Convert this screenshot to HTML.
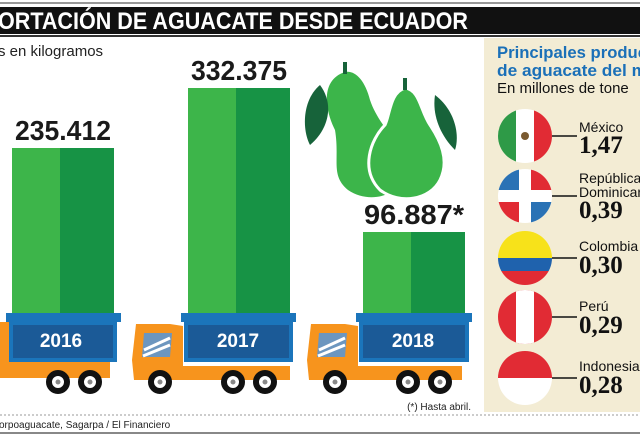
<!DOCTYPE html>
<html><head><meta charset="utf-8"><style>
body{margin:0;width:640px;height:434px;overflow:hidden;background:#fff;font-family:"Liberation Sans",sans-serif}
</style></head><body>
<svg width="640" height="434" viewBox="0 0 640 434" xmlns="http://www.w3.org/2000/svg" font-family="Liberation Sans, sans-serif">
<rect x="0" y="2" width="640" height="2" fill="#999"/>
<rect x="0" y="7" width="640" height="27" fill="#111"/>
<rect x="0" y="35" width="640" height="2" fill="#333"/>
<text x="-2" y="29" fill="#fff" font-size="24" font-weight="bold" textLength="470" lengthAdjust="spacingAndGlyphs">ORTACIÓN DE AGUACATE DESDE ECUADOR</text>
<text x="-2" y="56" font-size="15" fill="#222">s en kilogramos</text>
<rect x="484" y="38" width="156" height="374" fill="#f3ecd4"/>
<text x="497" y="58" font-size="17" font-weight="bold" fill="#1b70b8" textLength="150" lengthAdjust="spacingAndGlyphs">Principales produc</text>
<text x="497" y="76" font-size="17" font-weight="bold" fill="#1b70b8" textLength="150" lengthAdjust="spacingAndGlyphs">de aguacate del m</text>
<text x="497" y="93" font-size="15" fill="#111">En millones de tone</text>
<defs>
<clipPath id="c1"><circle cx="525" cy="136" r="27"/></clipPath>
<clipPath id="c2"><circle cx="525" cy="196" r="27"/></clipPath>
<clipPath id="c3"><circle cx="525" cy="258" r="27"/></clipPath>
<clipPath id="c4"><circle cx="525" cy="317" r="27"/></clipPath>
<clipPath id="c5"><circle cx="525" cy="378" r="27"/></clipPath>
</defs>
<g clip-path="url(#c1)"><rect x="498" y="109" width="18" height="54" fill="#2e9a47"/><rect x="516" y="109" width="18" height="54" fill="#fff"/><rect x="534" y="109" width="18" height="54" fill="#e12b34"/><circle cx="525" cy="136" r="4" fill="#7a5a30"/></g>
<g clip-path="url(#c2)"><rect x="498" y="169" width="54" height="54" fill="#fff"/><rect x="498" y="169" width="21" height="21" fill="#2a72b5"/><rect x="531" y="169" width="21" height="21" fill="#e12b34"/><rect x="498" y="202" width="21" height="21" fill="#e12b34"/><rect x="531" y="202" width="21" height="21" fill="#2a72b5"/></g>
<g clip-path="url(#c3)"><rect x="498" y="231" width="54" height="27" fill="#f7e21a"/><rect x="498" y="258" width="54" height="13" fill="#1f62ad"/><rect x="498" y="271" width="54" height="14" fill="#e12b34"/></g>
<g clip-path="url(#c4)"><rect x="498" y="290" width="54" height="54" fill="#e12b34"/><rect x="516" y="290" width="18" height="54" fill="#fff"/></g>
<g clip-path="url(#c5)"><rect x="498" y="351" width="54" height="27" fill="#e12b34"/><rect x="498" y="378" width="54" height="27" fill="#fff"/></g>
<g stroke="#111" stroke-width="1.5"><line x1="552" y1="136" x2="577" y2="136"/><line x1="552" y1="196" x2="577" y2="196"/><line x1="552" y1="258" x2="577" y2="258"/><line x1="552" y1="317" x2="577" y2="317"/><line x1="552" y1="378" x2="577" y2="378"/></g>
<g font-size="14" fill="#111">
<text x="579" y="132">México</text>
<text x="579" y="183">República</text><text x="579" y="197">Dominicana</text>
<text x="579" y="251">Colombia</text>
<text x="579" y="311">Perú</text>
<text x="579" y="371">Indonesia</text>
</g>
<g font-size="25" font-weight="bold" fill="#111" font-family="Liberation Serif, serif">
<text x="579" y="153">1,47</text>
<text x="579" y="218">0,39</text>
<text x="579" y="273">0,30</text>
<text x="579" y="333">0,29</text>
<text x="579" y="393">0,28</text>
</g>
<g>
<path d="M345 72 C320 80 325 110 335 130 C340 160 330 175 348 190 C370 205 400 195 405 175 C410 150 380 130 370 100 C365 80 355 70 345 72Z" fill="#3cb54a"/>
<path d="M405 88 C390 92 390 115 385 125 C370 140 360 170 380 190 C400 205 430 200 440 180 C450 160 440 140 430 125 C420 110 420 90 405 88Z" fill="#3cb54a" stroke="#fff" stroke-width="3"/>
<path d="M320 85 C302 100 302 130 310 145 C328 130 335 105 320 85Z" fill="#17633a"/>
<path d="M435 95 C455 110 460 135 455 150 C440 135 432 115 435 95Z" fill="#17633a"/>
<rect x="343" y="62" width="4" height="12" fill="#17633a"/><rect x="403" y="78" width="4" height="12" fill="#17633a"/>
</g>
<rect x="12" y="148" width="48" height="166" fill="#3db54a"/><rect x="60" y="148" width="54" height="166" fill="#179345"/>
<rect x="188" y="88" width="48" height="226" fill="#3db54a"/><rect x="236" y="88" width="54" height="226" fill="#179345"/>
<rect x="363" y="232" width="48" height="82" fill="#3db54a"/><rect x="411" y="232" width="54" height="82" fill="#179345"/>
<g font-size="28" font-weight="bold" fill="#1a1a1a" text-anchor="middle">
<text x="63" y="140" textLength="96" lengthAdjust="spacingAndGlyphs">235.412</text>
<text x="239" y="80" textLength="96" lengthAdjust="spacingAndGlyphs">332.375</text>
<text x="414" y="224" textLength="100" lengthAdjust="spacingAndGlyphs">96.887*</text>
</g>
<rect x="0" y="360" width="110" height="18" fill="#f7941d"/>
<rect x="0" y="322" width="10" height="40" fill="#f7941d"/>
<rect x="6" y="313" width="115" height="9" fill="#1b75bb"/>
<rect x="9" y="322" width="108" height="40" fill="#1b75bb"/><rect x="13" y="325" width="100" height="33" fill="#1b5a97"/>
<path d="M136 324 L170 324 L183 326 L183 366 L290 366 L290 380 L134 380 L132 360 Z" fill="#f7941d"/>
<path d="M144 333 L172 333 L170 357 L142 357 Z" fill="#6c96bf"/><path d="M144 350 L170 338 M143 356 L170 345" stroke="#fff" stroke-width="3"/>
<rect x="181" y="313" width="115" height="9" fill="#1b75bb"/>
<rect x="184" y="322" width="109" height="40" fill="#1b75bb"/><rect x="188" y="325" width="101" height="33" fill="#1b5a97"/>
<path d="M311 324 L345 324 L358 326 L358 366 L462 366 L462 380 L309 380 L307 360 Z" fill="#f7941d"/>
<path d="M319 333 L347 333 L345 357 L317 357 Z" fill="#6c96bf"/><path d="M319 350 L345 338 M318 356 L345 345" stroke="#fff" stroke-width="3"/>
<rect x="356" y="313" width="116" height="9" fill="#1b75bb"/>
<rect x="359" y="322" width="110" height="40" fill="#1b75bb"/><rect x="363" y="325" width="102" height="33" fill="#1b5a97"/>
<g font-size="19" font-weight="bold" fill="#fff" text-anchor="middle">
<text x="61" y="347">2016</text><text x="238" y="347">2017</text><text x="413" y="347">2018</text>
</g>
<g fill="#fff" stroke="#111" stroke-width="6">
<circle cx="58" cy="382" r="9"/><circle cx="90" cy="382" r="9"/>
<circle cx="160" cy="382" r="9"/><circle cx="233" cy="382" r="9"/><circle cx="265" cy="382" r="9"/>
<circle cx="335" cy="382" r="9"/><circle cx="408" cy="382" r="9"/><circle cx="440" cy="382" r="9"/>
</g>
<g fill="#888"><circle cx="58" cy="382" r="2.5"/><circle cx="90" cy="382" r="2.5"/><circle cx="160" cy="382" r="2.5"/><circle cx="233" cy="382" r="2.5"/><circle cx="265" cy="382" r="2.5"/><circle cx="335" cy="382" r="2.5"/><circle cx="408" cy="382" r="2.5"/><circle cx="440" cy="382" r="2.5"/></g>
<text x="471" y="410" font-size="10" fill="#222" text-anchor="end">(*) Hasta abril.</text>
<line x1="0" y1="415" x2="640" y2="415" stroke="#999" stroke-dasharray="2,2"/>
<text x="-1" y="428" font-size="10" fill="#222">orpoaguacate, Sagarpa / El Financiero</text>
<rect x="0" y="432" width="640" height="2" fill="#888"/>
</svg>
</body></html>
